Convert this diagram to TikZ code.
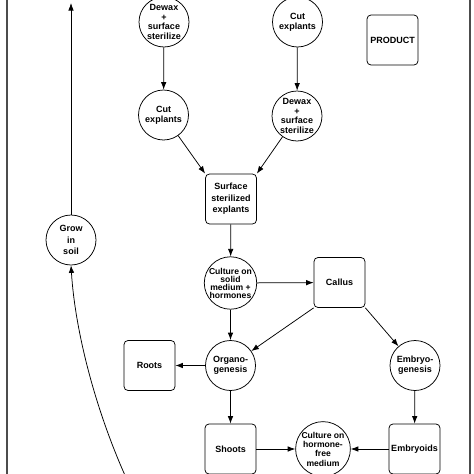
\documentclass[tikz,border=0pt]{standalone}
\usepackage{fontspec}
\setmainfont{Liberation Sans}
\usetikzlibrary{arrows.meta}
\begin{document}
\begin{tikzpicture}[x=1pt,y=-1pt,
  every node/.style={font=\fontsize{9}{9.8}\selectfont\bfseries, align=center, inner sep=0pt},
  proc/.style={circle, draw, line width=0.75pt, minimum size=50pt},
  tight/.style={font=\fontsize{8.6}{8}\selectfont\bfseries},
  prod/.style={rounded corners=4pt, draw, line width=0.75pt, minimum width=51pt, minimum height=50pt, font=\fontsize{9}{11.5}\selectfont\bfseries},
  link/.style={-{Latex[length=7.5pt,width=5.5pt]}, line width=0.75pt},
  border/.style={draw=black!70, line width=1.4pt}]
\useasboundingbox (0,0) rectangle (474,474);
\clip (0,0) rectangle (474,474);
\draw[border] (7,-5) -- (7,480);
\draw[border] (470,-5) -- (470,480);

\node[proc] (dewaxL) at (164,22) {Dewax\\+\\surface\\sterilize};
\node[proc] (cutR) at (297.5,22) {Cut\\explants};
\node[prod] (product) at (392.5,40) {PRODUCT};
\node[proc] (cutL) at (163.5,115) {Cut\\explants};
\node[proc] (dewaxR) at (297,116) {Dewax\\+\\surface\\sterilize};
\node[prod] (surf) at (231,199) {Surface\\sterilized\\explants};
\node[proc, tight] (solid) at (230.5,283) {Culture on\\solid\\medium +\\hormones};
\node[prod] (callus) at (339.5,282.5) {Callus};
\node[proc] (organo) at (230.5,365.5) {Organo-\\genesis};
\node[prod] (roots) at (149.5,365.5) {Roots};
\node[proc] (embryo) at (415,365.5) {Embryo-\\genesis};
\node[prod] (shoots) at (230.5,449) {Shoots};
\node[proc, font=\fontsize{8.6}{9.3}\selectfont\bfseries] (free) at (323,449) {Culture on\\hormone-\\free\\medium};
\node[prod] (embryoids) at (414.5,449) {Embryoids};
\node[proc, font=\fontsize{9}{11.5}\selectfont\bfseries] (grow) at (71,240) {Grow\\in\\soil};

\coordinate (top) at (71,3);
\coordinate (curvestart) at (128,482);

\draw[link] (dewaxL) -- (cutL);
\draw[link] (cutR) -- (dewaxR);
\draw[link] (cutL) -- (surf.north west);
\draw[link] (dewaxR) -- (surf.north east);
\draw[link] (surf) -- (solid);
\draw[link] (solid) -- (callus);
\draw[link] (solid) -- (organo);
\draw[link] (callus.south west) -- (organo);
\draw[link] (callus.south east) -- (embryo);
\draw[link] (organo) -- (roots);
\draw[link] (organo) -- (shoots);
\draw[link] (embryo) -- (embryoids);
\draw[link] (shoots) -- (free);
\draw[link] (embryoids) -- (free);
\draw[link] (grow) -- (top);
\draw[link] (curvestart) .. controls (95,410) and (75,330) .. (grow.south);
\end{tikzpicture}
\end{document}
